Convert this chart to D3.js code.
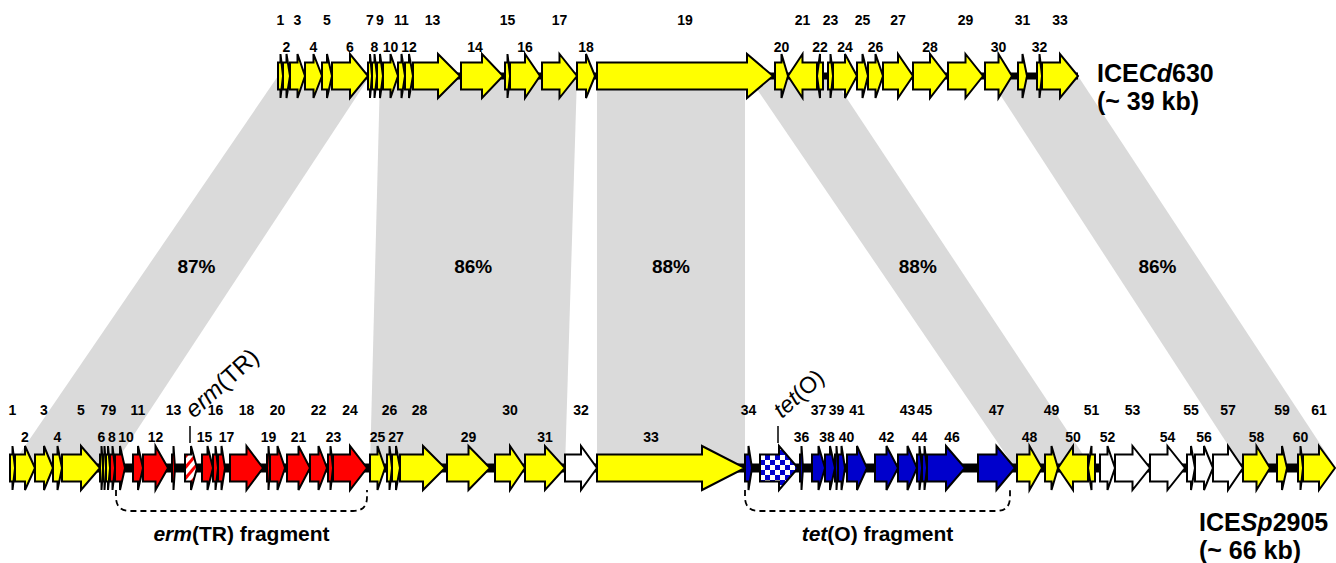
<!DOCTYPE html>
<html>
<head>
<meta charset="utf-8">
<script src="https://cdn.jsdelivr.net/npm/d3@7"></script>
<style>
  body { margin: 0; background: #fff; }
  svg { display: block; font-family: "Liberation Sans", Arial, sans-serif; }
</style>
</head>
<body>
<svg id="map" width="1336" height="563"></svg>
<script>
// gene = [number, start kb, end kb, strand, kind]
const topGenes = [
  [1, 0, 0.25, 1, 'y'], [2, 0.25, 0.6, 1, 'y'], [3, 0.6, 1.35, 1, 'y'], [4, 1.35, 2.2, 1, 'y'],
  [5, 2.2, 2.7, 1, 'y'], [6, 2.7, 4.5, 1, 'y'], [7, 4.5, 4.7, 1, 'y'], [8, 4.7, 4.95, 1, 'y'],
  [9, 4.95, 5.25, 1, 'y'], [10, 5.25, 6.0, 1, 'y'], [11, 6.0, 6.35, 1, 'y'], [12, 6.35, 6.75, 1, 'y'],
  [13, 6.75, 9.1, 1, 'y'], [14, 9.15, 11.25, 1, 'y'], [15, 11.35, 11.6, 1, 'y'], [16, 11.6, 13.1, 1, 'y'],
  [17, 13.2, 14.95, 1, 'y'], [18, 14.95, 15.85, 1, 'y'], [19, 15.95, 24.75, 1, 'y'], [20, 24.85, 25.5, 1, 'y'],
  [21, 25.5, 26.95, -1, 'y'], [22, 26.95, 27.25, -1, 'y'], [23, 27.5, 27.75, 1, 'y'], [24, 27.75, 28.95, 1, 'y'],
  [25, 28.95, 29.5, 1, 'y'], [26, 29.5, 30.25, 1, 'y'], [27, 30.25, 31.75, 1, 'y'], [28, 31.75, 33.45, 1, 'y'],
  [29, 33.5, 35.25, 1, 'y'], [30, 35.35, 36.7, 1, 'y'], [31, 37.0, 37.45, 1, 'y'], [32, 37.95, 38.2, 1, 'y'],
  [33, 38.2, 40.0, 1, 'y']
];

const bottomGenes = [
  [1, 0, 0.25, 1, 'y'], [2, 0.25, 1.25, 1, 'y'], [3, 1.25, 2.15, 1, 'y'], [4, 2.15, 2.6, 1, 'y'],
  [5, 2.6, 4.5, 1, 'y'], [6, 4.5, 4.65, 1, 'y'], [7, 4.65, 4.8, 1, 'y'], [8, 4.8, 5.0, 1, 'y'],
  [9, 5.0, 5.25, 1, 'r'], [10, 5.25, 5.75, 1, 'r'], [11, 6.15, 6.65, 1, 'r'], [12, 6.65, 7.9, 1, 'r'],
  [13, 8.1, 8.25, 1, 'r'], [14, 8.75, 9.35, 1, 'erm'], [15, 9.6, 10.15, 1, 'r'], [16, 10.15, 10.4, 1, 'r'],
  [17, 10.4, 10.75, 1, 'r'], [18, 11.0, 12.65, 1, 'r'], [19, 12.85, 13.0, 1, 'r'], [20, 13.0, 13.75, 1, 'r'],
  [21, 13.85, 15.0, 1, 'r'], [22, 15.0, 15.85, 1, 'r'], [23, 15.9, 16.15, 1, 'r'], [24, 16.15, 17.85, 1, 'r'],
  [25, 18.0, 18.75, 1, 'y'], [26, 18.85, 19.1, 1, 'y'], [27, 19.1, 19.5, 1, 'y'], [28, 19.5, 21.75, 1, 'y'],
  [29, 21.85, 24.0, 1, 'y'], [30, 24.25, 25.75, 1, 'y'], [31, 25.75, 27.75, 1, 'y'], [32, 27.75, 29.35, 1, 'w'],
  [33, 29.35, 36.75, 1, 'y'], [34, 36.75, 37.1, 1, 'b'], [35, 37.5, 39.4, 1, 'tet'], [36, 39.5, 39.65, 1, 'b'],
  [37, 40.1, 40.75, 1, 'b'], [38, 40.75, 41.25, 1, 'b'], [39, 41.25, 41.4, 1, 'b'], [40, 41.4, 41.75, 1, 'b'],
  [41, 41.85, 42.85, 1, 'b'], [42, 43.25, 44.4, 1, 'b'], [43, 44.4, 45.35, 1, 'b'], [44, 45.35, 45.6, 1, 'b'],
  [45, 45.6, 45.85, 1, 'b'], [46, 45.85, 47.75, 1, 'b'], [47, 48.4, 50.25, 1, 'b'], [48, 50.35, 51.6, 1, 'y'],
  [49, 51.75, 52.4, 1, 'y'], [50, 52.4, 53.9, -1, 'y'], [51, 53.9, 54.25, -1, 'y'], [52, 54.5, 55.25, 1, 'w'],
  [53, 55.25, 57.0, 1, 'w'], [54, 57.0, 58.75, 1, 'w'], [55, 58.85, 59.25, 1, 'w'], [56, 59.25, 60.15, 1, 'w'],
  [57, 60.15, 61.65, 1, 'w'], [58, 61.65, 63.0, 1, 'y'], [59, 63.35, 63.85, 1, 'y'], [60, 64.4, 64.65, 1, 'y'],
  [61, 64.65, 66.25, 1, 'y']
];

// [identity, top kb range, bottom kb range]
const alignments = [
  ['87%', [0, 4.6], [0, 5.1]],
  ['86%', [5.1, 14.95], [18.0, 27.75]],
  ['88%', [15.95, 23.35], [29.35, 36.75]],
  ['88%', [23.5, 27.7], [50.25, 54.1]],
  ['86%', [35.5, 40.0], [61.65, 66.3]]
];

// [italic part, rest, bottom kb range]
const fragments = [
  ['erm', '(TR) fragment', [5.3, 17.85]],
  ['tet', '(O) fragment', [36.75, 50.0]]
];

// resistance genes named instead of numbered: [italic, rest, gene number]
const callouts = [['erm', '(TR)', 14], ['tet', '(O)', 35]];

const topLength = 40.0;
const bottomLength = 66.3;

const svg = d3.select('#map');
const xTop = d3.scaleLinear().domain([0, topLength]).range([278, 1078]);
const xBot = d3.scaleLinear().domain([0, bottomLength]).range([10, 1336]);
const yTop = 76, yBot = 468;
const bodyHalf = 13.5, headHalf = 22;

const fills = { y: '#ffff00', r: '#ff0000', b: '#0000cc', w: '#ffffff', erm: 'url(#hatch)', tet: 'url(#checker)' };
const headOverride = { top19: 26, bot33: 43 };
// small label nudges so crowded numbers sit like the original
const labelNudge = {
  top13: -4, top14: -7, bot8: 4, bot10: 6, bot15: -3, bot17: 5, bot28: -3,
  bot33: -20, bot38: -3, bot40: 5, bot46: 6, bot23: 3
};

// patterns
const defs = svg.append('defs');
const hatch = defs.append('pattern').attr('id', 'hatch')
  .attr('patternUnits', 'userSpaceOnUse').attr('width', 7).attr('height', 7)
  .attr('patternTransform', 'rotate(40)');
hatch.append('rect').attr('width', 7).attr('height', 7).attr('fill', '#fff');
hatch.append('rect').attr('width', 3).attr('height', 7).attr('fill', '#ff0000');

const checker = defs.append('pattern').attr('id', 'checker')
  .attr('patternUnits', 'userSpaceOnUse').attr('width', 10).attr('height', 10);
checker.append('rect').attr('width', 10).attr('height', 10).attr('fill', '#fff');
checker.append('rect').attr('width', 5).attr('height', 5).attr('fill', '#0000cc');
checker.append('rect').attr('x', 5).attr('y', 5).attr('width', 5).attr('height', 5).attr('fill', '#0000cc');

// grey alignment bands
svg.append('g').selectAll('path')
  .data(alignments)
  .enter()
  .append('path')
  .attr('fill', '#dadada')
  .attr('d', (d) => `M${xTop(d[1][0])},${yTop}L${xTop(d[1][1])},${yTop}L${xBot(d[2][1])},${yBot}L${xBot(d[2][0])},${yBot}Z`);

svg.append('g').selectAll('text')
  .data(alignments)
  .enter()
  .append('text')
  .attr('x', (d) => {
    const t = (xTop(d[1][0]) + xTop(d[1][1])) / 2;
    const b = (xBot(d[2][0]) + xBot(d[2][1])) / 2;
    return t + (b - t) * 0.485;
  })
  .attr('y', 273)
  .attr('text-anchor', 'middle')
  .style('font-size', '19px')
  .style('font-weight', 'bold')
  .text((d) => d[0]);

// backbones
svg.append('line').attr('x1', xTop(0)).attr('x2', xTop(topLength))
  .attr('y1', yTop).attr('y2', yTop).attr('stroke', '#000').attr('stroke-width', 7);
svg.append('line').attr('x1', xBot(0)).attr('x2', xBot(bottomLength) - 4)
  .attr('y1', yBot).attr('y2', yBot).attr('stroke', '#000').attr('stroke-width', 9);

function arrowPath(g, x, c, key) {
  const s = x(g[1]), e = x(g[2]);
  const len = e - s;
  const h = headOverride[key] || Math.min(len * 0.5, 22);
  let pts;
  if (g[3] > 0) {
    const b = e - h;
    pts = [[s, c - bodyHalf], [b, c - bodyHalf], [b, c - headHalf], [e, c], [b, c + headHalf], [b, c + bodyHalf], [s, c + bodyHalf]];
  } else {
    const b = s + h;
    pts = [[e, c - bodyHalf], [b, c - bodyHalf], [b, c - headHalf], [s, c], [b, c + headHalf], [b, c + bodyHalf], [e, c + bodyHalf]];
  }
  return 'M' + pts.map((p) => p.join(',')).join('L') + 'Z';
}

const calloutNums = callouts.map((c) => c[2]);

function drawTrack(genes, x, c, prefix, rowY) {
  svg.append('g').selectAll('path')
    .data(genes)
    .enter()
    .append('path')
    .attr('d', (d) => arrowPath(d, x, c, prefix + d[0]))
    .attr('fill', (d) => fills[d[4]])
    .attr('stroke', '#000')
    .attr('stroke-width', 2)
    .attr('stroke-linejoin', 'miter');

  // numbered genes alternate between an upper and a lower row
  const labelled = genes.filter((d) => prefix === 'top' || !calloutNums.includes(d[0]));
  svg.append('g').selectAll('text')
    .data(labelled)
    .enter()
    .append('text')
    .attr('x', (d) => (x(d[1]) + x(d[2])) / 2 + (labelNudge[prefix + d[0]] || 0))
    .attr('y', (d, i) => (i % 2 === 0 ? rowY[0] : rowY[1]))
    .attr('text-anchor', 'middle')
    .style('font-size', '14px')
    .style('font-weight', 'bold')
    .text((d) => d[0]);
}

drawTrack(topGenes, xTop, yTop, 'top', [25, 52]);
drawTrack(bottomGenes, xBot, yBot, 'bot', [415, 442]);

// element names
function elementLabel(x, y, pre, it, post, size) {
  const t = svg.append('text').attr('x', x).attr('y', y)
    .style('font-size', size + 'px').style('font-weight', 'bold');
  t.append('tspan').text(pre);
  t.append('tspan').style('font-style', 'italic').text(it);
  t.append('tspan').text(post);
}
elementLabel(1097, 82, 'ICE', 'Cd', '630', 25);
svg.append('text').attr('x', 1097).attr('y', 110).style('font-size', '25px').style('font-weight', 'bold').text('(~ 39 kb)');
elementLabel(1199, 531, 'ICE', 'Sp', '2905', 25);
svg.append('text').attr('x', 1199).attr('y', 559).style('font-size', '25px').style('font-weight', 'bold').text('(~ 66 kb)');

// resistance gene callouts
callouts.forEach((cl) => {
  const g = bottomGenes.find((d) => d[0] === cl[2]);
  const cx = (xBot(g[1]) + xBot(g[2])) / 2 - 1;
  svg.append('line').attr('x1', cx).attr('x2', cx).attr('y1', 426).attr('y2', 443)
    .attr('stroke', '#000').attr('stroke-width', 1.5);
  const t = svg.append('text')
    .attr('transform', `translate(${cx + 4},${419}) rotate(-42)`)
    .style('font-size', cl[0] === 'erm' ? '24px' : '23px');
  t.append('tspan').style('font-style', 'italic').text(cl[0]);
  t.append('tspan').text(cl[1]);
});

// fragment brackets
fragments.forEach((f) => {
  const x1 = xBot(f[2][0]), x2 = xBot(f[2][1]);
  const top = 490, bot = 511, r = 14;
  svg.append('path')
    .attr('d', `M${x1},${top}L${x1},${bot - r}Q${x1},${bot} ${x1 + r},${bot}L${x2 - r},${bot}Q${x2},${bot} ${x2},${bot - r}L${x2},${top}`)
    .attr('fill', 'none')
    .attr('stroke', '#000')
    .attr('stroke-width', 1.8)
    .attr('stroke-dasharray', '6,4');
  const t = svg.append('text').attr('x', (x1 + x2) / 2).attr('y', 541)
    .attr('text-anchor', 'middle').style('font-size', '21px').style('font-weight', 'bold');
  t.append('tspan').style('font-style', 'italic').text(f[0]);
  t.append('tspan').text(f[1]);
});
</script>
</body>
</html>
